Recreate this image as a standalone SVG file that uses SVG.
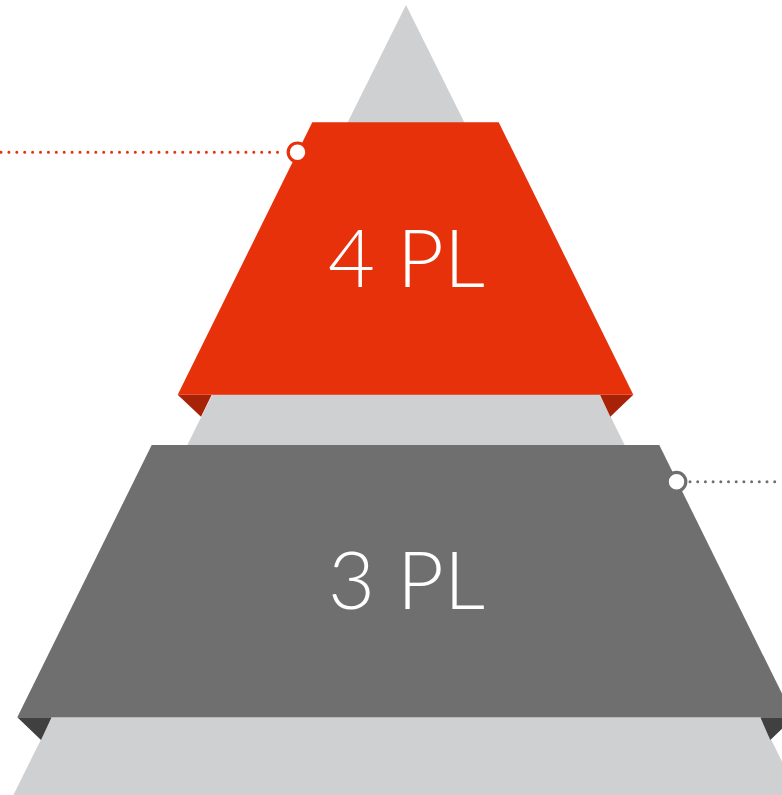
<svg xmlns="http://www.w3.org/2000/svg" width="782" height="795" viewBox="0 0 782 795">
<style>
.lbl{font-family:Lato,"Open Sans","Liberation Sans",sans-serif;font-weight:300;font-size:81px;fill:#ffffff;text-anchor:middle}
.dots-red{fill:none;stroke:#e6310b;stroke-width:3;stroke-linecap:round;stroke-dasharray:0 7.9}
.dots-gray{fill:none;stroke:#6f6f6f;stroke-width:3;stroke-linecap:round;stroke-dasharray:0 7.7}
</style>
<rect width="782" height="795" fill="#ffffff"/>
<g id="pyramid-bg">
<polygon points="406,5 13.4,795 798.6,795" fill="#cfd0d2"/>
</g>
<g id="level-4pl">
<polygon points="177.7,394.7 211.7,394.7 201,416.7" fill="#a82207"/>
<polygon points="600,394.7 633.3,394.7 610.3,416.7" fill="#a82207"/>
<polygon points="312.3,122.3 498.7,122.3 633.3,394.7 177.7,394.7" fill="#e6310b"/>
<text class="lbl" x="406.5" y="286.7">4 PL</text>
</g>
<g id="level-3pl">
<polygon points="17.3,717.3 51.7,717.3 41,740" fill="#404040"/>
<polygon points="760.3,717.3 794,717.3 770.3,740" fill="#404040"/>
<polygon points="151.7,445 659.3,445 793.7,717.3 17.3,717.3" fill="#6f6f6f"/>
<text class="lbl" x="406.5" y="609.3">3 PL</text>
</g>
<g id="connectors">
<line class="dots-red" x1="1" y1="152.3" x2="284" y2="152.3"/>
<circle cx="297.5" cy="152.3" r="9.3" fill="#ffffff" stroke="#e6310b" stroke-width="3.2"/>
<line class="dots-gray" x1="690" y1="481.7" x2="782" y2="481.7"/>
<circle cx="676.5" cy="481.7" r="9.3" fill="#ffffff" stroke="#6f6f6f" stroke-width="3.2"/>
</g>
</svg>
